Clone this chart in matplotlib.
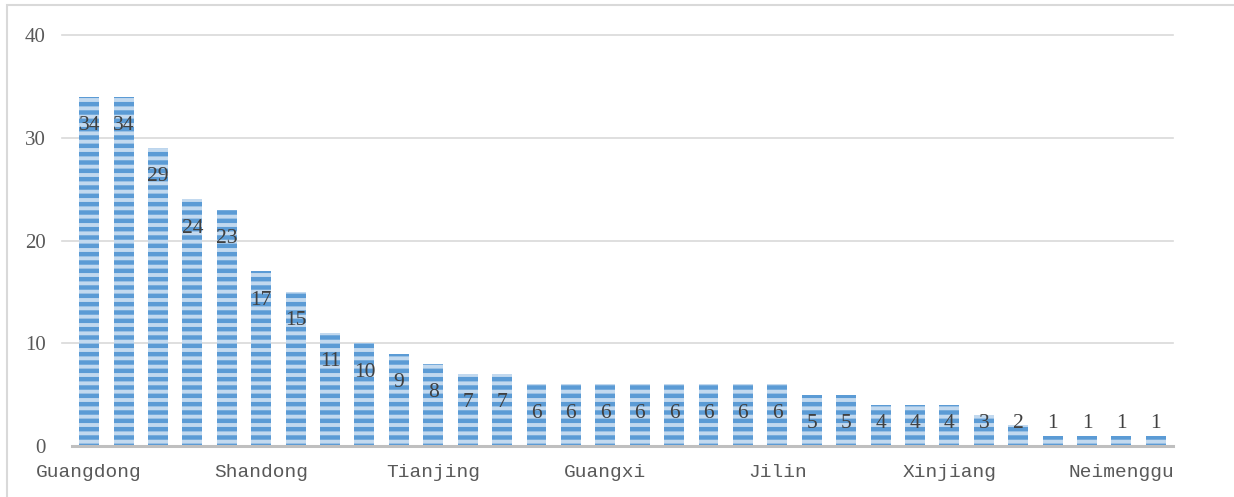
import matplotlib.pyplot as plt
from matplotlib.patches import Rectangle

# provinces, sorted by count (only every 5th name is shown on the axis)
provinces = ["Guangdong", "Beijing", "Jiangsu", "Zhejiang", "Shanghai",
             "Shandong", "Hubei", "Sichuan", "Fujian", "Henan",
             "Tianjing", "Hunan", "Anhui", "Liaoning", "Shaanxi",
             "Guangxi", "Chongqing", "Hebei", "Jiangxi", "Yunnan",
             "Jilin", "Heilongjiang", "Shanxi", "Guizhou", "Gansu",
             "Xinjiang", "Hainan", "Ningxia", "Qinghai", "Xizang",
             "Neimenggu", "Hongkong"]
counts = [34, 34, 29, 24, 23, 17, 15, 11, 10, 9, 8, 7, 7, 6, 6, 6,
          6, 6, 6, 6, 6, 5, 5, 4, 4, 4, 3, 2, 1, 1, 1, 1]
y_ticks = [0, 10, 20, 30, 40]

W, H = 1234, 497
plt.rcParams['hatch.linewidth'] = 3.2

fig = plt.figure(figsize=(W / 100, H / 100), dpi=100)
ax = fig.add_axes([72 / W, 1 - 446 / H, (1173 - 72) / W, (446 - 35) / H])

# outer chart frame (runs off the right and bottom of the image)
fig.patches.append(Rectangle((7 / W, -0.2), 1.2, 1.2 - 5 / H, transform=fig.transFigure,
                             fill=False, edgecolor='#d9d9d9', linewidth=1.5))

x = list(range(len(counts)))
ax.bar(x, counts, width=0.58, color='#c2d9ef', edgecolor='#5b9bd5',
       linewidth=0, hatch='--', zorder=3)

for xi, v in zip(x, counts):
    ax.text(xi, max(v - 2.8, 2.15), str(v), ha='center', va='center',
            fontsize=15.5, color='#404040', family='Liberation Serif', zorder=4)

ax.set_xlim(-0.5, len(counts) - 0.5)
ax.set_ylim(0, 40)
ax.set_yticks(y_ticks)
ax.set_yticklabels([str(t) for t in y_ticks], family='Liberation Serif',
                   fontsize=15, color='#595959')
ax.tick_params(axis='y', length=0, pad=19)

for t in y_ticks[1:]:
    ax.axhline(t, xmin=-10 / 1101, xmax=1, color='#d9d9d9', linewidth=1.2,
               clip_on=False, zorder=1)

shown = list(range(0, len(provinces), 5))
ax.set_xticks(shown)
ax.set_xticklabels([provinces[i] for i in shown], family='Liberation Mono',
                   fontsize=14, color='#595959')
ax.tick_params(axis='x', length=0, pad=13)

for s in ['top', 'right', 'left']:
    ax.spines[s].set_visible(False)
ax.spines['bottom'].set_color('#bfbfbf')
ax.spines['bottom'].set_linewidth(2.2)
ax.spines['bottom'].set_zorder(5)

fig.savefig('out.png', dpi=100)
